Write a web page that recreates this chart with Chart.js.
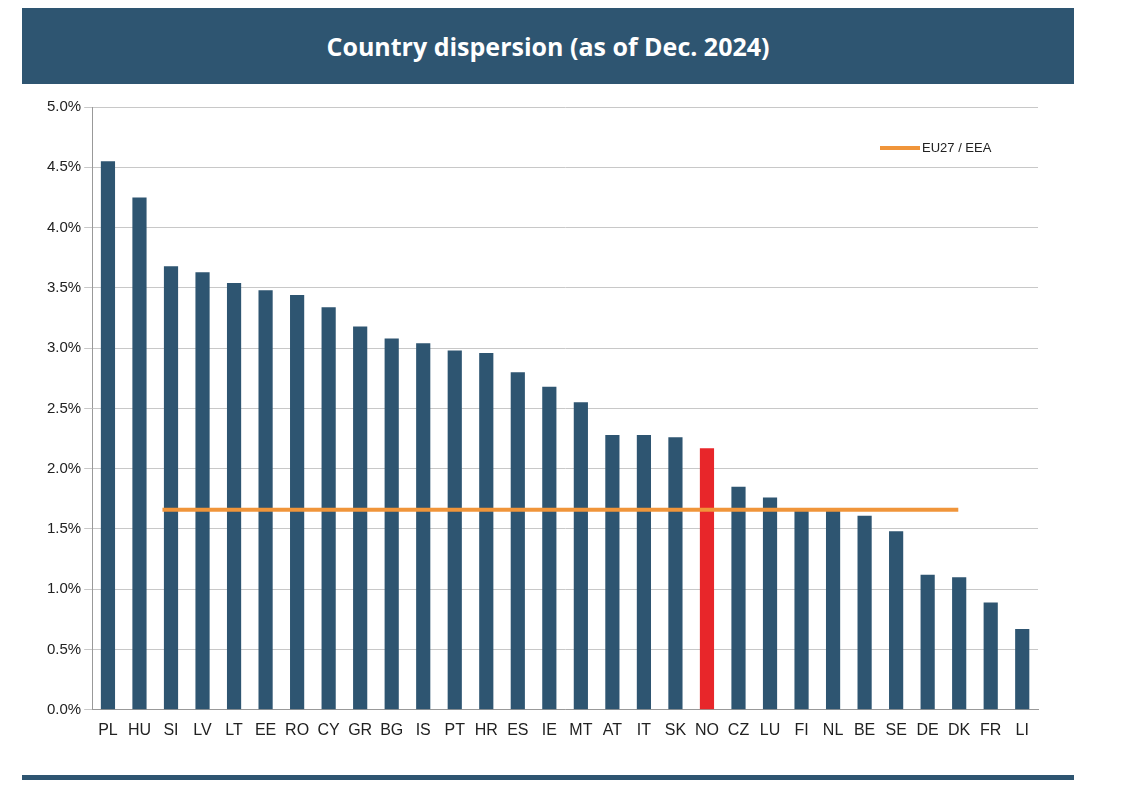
<!DOCTYPE html>
<html><head><meta charset="utf-8">
<script src="https://cdn.jsdelivr.net/npm/chart.js@4/dist/chart.umd.min.js"></script>
<style>
body{margin:0;background:#fff;font-family:Calibri,"Liberation Sans",Arial,sans-serif;}
#title{position:absolute;left:22px;top:8px;width:1052px;height:76px;background:#2e5571;color:#fff;font:bold 25px "Open Sans",Arial,sans-serif;display:flex;align-items:center;justify-content:center;}
#bot{position:absolute;left:22px;top:775px;width:1052px;height:5px;background:#2e5571;}
#wrap{position:absolute;left:44px;top:95px;width:1006px;height:648px;}
#leg{position:absolute;left:880px;top:140px;font:13px "Liberation Sans",Arial,sans-serif;color:#222;display:flex;align-items:center;}
#leg span{display:inline-block;width:40px;height:4px;background:#f0953a;margin-right:2px;}
</style></head><body>
<div id="title">Country dispersion (as of Dec. 2024)</div>
<div id="wrap"><canvas id="c"></canvas></div>
<div id="leg"><span></span>EU27 / EEA</div>
<div id="bot"></div>
<script>
const categories=["PL","HU","SI","LV","LT","EE","RO","CY","GR","BG","IS","PT","HR","ES","IE","MT","AT","IT","SK","NO","CZ","LU","FI","NL","BE","SE","DE","DK","FR","LI"];
const values=[4.55,4.25,3.68,3.63,3.54,3.48,3.44,3.34,3.18,3.08,3.04,2.98,2.96,2.80,2.68,2.55,2.28,2.28,2.26,2.17,1.85,1.76,1.65,1.65,1.61,1.48,1.12,1.10,0.89,0.67];
const euValue=1.66;
const highlight="NO";
const colors=categories.map(c=>c===highlight?"#e8262a":"#2e5571");
new Chart(document.getElementById('c'),{
 type:'bar',
 data:{labels:categories,datasets:[
  {type:'bar',data:values,backgroundColor:colors,barPercentage:0.45,categoryPercentage:1,grouped:false,order:2},
  {type:'line',xAxisID:'x2',data:[{x:0.1,y:euValue},{x:29.55,y:euValue}],borderColor:'#f0953a',borderWidth:4,pointRadius:0,order:1}
 ]},
 options:{responsive:true,maintainAspectRatio:false,animation:false,
  layout:{padding:{right:12,top:6}},
  plugins:{legend:{display:false},tooltip:{enabled:false}},
  scales:{
   x:{grid:{display:false},border:{color:'#999'},ticks:{color:'#222',font:{size:16,family:'"Liberation Sans", Arial'},maxRotation:0,autoSkip:false}},
   x2:{type:'linear',display:false,min:0,max:30},
   y:{min:0,max:5,ticks:{stepSize:0.5,color:'#222',font:{size:15,family:'"Liberation Sans", Arial'},callback:v=>v.toFixed(1)+'%'},grid:{color:'#c8c8c8'},border:{color:'#999'}}
  }}
});
</script></body></html>
